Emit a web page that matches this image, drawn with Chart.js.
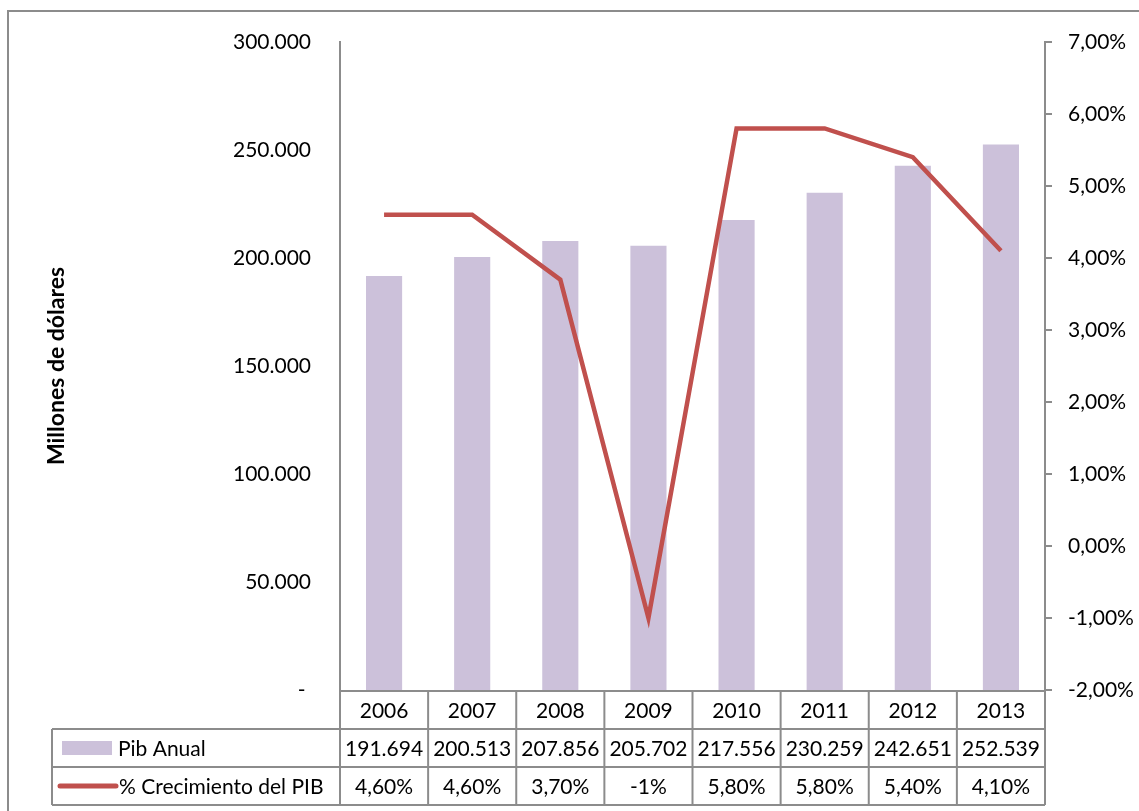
<!DOCTYPE html>
<html>
<head>
<meta charset="utf-8">
<script src="https://cdn.jsdelivr.net/npm/chart.js@4/dist/chart.umd.min.js"></script>
<style>
  html, body { margin: 0; padding: 0; background: #fff; }
  #wrap { width: 1139px; height: 811px; position: relative; }
</style>
</head>
<body>
<div id="wrap"><canvas id="pib"></canvas></div>
<script>
const years = ['2006', '2007', '2008', '2009', '2010', '2011', '2012', '2013'];
const pibAnual = [191694, 200513, 207856, 205702, 217556, 230259, 242651, 252539];
const crecimiento = [4.6, 4.6, 3.7, -1, 5.8, 5.8, 5.4, 4.1];

const BAR_COLOR = '#ccc1da';
const LINE_COLOR = '#c0504d';
const GRID = '#8c8c8c';
const FONT = { family: 'Lato, "Open Sans", sans-serif', size: 21 };

function miles(v) {
  return String(v).replace(/\B(?=(\d{3})+(?!\d))/g, '.');
}

function pct(v, decimals = 2) {
  return v.toFixed(decimals).replace('.', ',') + '%';
}

// table cell text: integers print without decimals ("-1%")
function pctCell(v) {
  return Number.isInteger(v) ? v + '%' : pct(v);
}

// outer frame + data table under the plot
const dataTable = {
  id: 'dataTable',
  beforeDraw(chart) {
    const { ctx } = chart;
    ctx.save();
    ctx.fillStyle = '#fff';
    ctx.fillRect(0, 0, chart.width, chart.height);
    ctx.strokeStyle = GRID;
    ctx.lineWidth = 2;
    ctx.strokeRect(8, 11, chart.width + 20, chart.height + 20);
    ctx.restore();
  },
  afterDraw(chart) {
    const { ctx, chartArea } = chart;
    const xs = chart.scales.x;
    const n = years.length;
    const colW = (chartArea.right - chartArea.left) / n;
    const rowH = 38;
    const top = chartArea.bottom + 1;
    const labelLeft = 52;
    const rows = [top, top + rowH, top + rowH * 2, top + rowH * 3];

    ctx.save();
    ctx.strokeStyle = GRID;
    ctx.lineWidth = 2;
    ctx.beginPath();
    // horizontal lines
    ctx.moveTo(chartArea.left, rows[0]);
    ctx.lineTo(chartArea.right, rows[0]);
    for (let r = 1; r < rows.length; r++) {
      ctx.moveTo(labelLeft, rows[r]);
      ctx.lineTo(chartArea.right, rows[r]);
    }
    // vertical lines
    for (let i = 0; i <= n; i++) {
      const x = chartArea.left + i * colW;
      ctx.moveTo(x, rows[0]);
      ctx.lineTo(x, rows[3]);
    }
    ctx.moveTo(labelLeft, rows[1]);
    ctx.lineTo(labelLeft, rows[3]);
    ctx.stroke();

    ctx.font = `${FONT.size}px ${FONT.family}`;
    ctx.fillStyle = '#000';
    ctx.textBaseline = 'middle';
    ctx.textAlign = 'center';
    years.forEach((y, i) => {
      const cx = xs.getPixelForValue(i);
      ctx.fillText(y, cx, (rows[0] + rows[1]) / 2 + 1);
      ctx.fillText(miles(pibAnual[i]), cx, (rows[1] + rows[2]) / 2 + 1);
      ctx.fillText(pctCell(crecimiento[i]), cx, (rows[2] + rows[3]) / 2 + 1);
    });

    // legend keys
    const m1 = (rows[1] + rows[2]) / 2;
    const m2 = (rows[2] + rows[3]) / 2;
    ctx.fillStyle = BAR_COLOR;
    ctx.fillRect(62, m1 - 7, 50, 14);
    ctx.strokeStyle = LINE_COLOR;
    ctx.lineWidth = 5;
    ctx.lineCap = 'round';
    ctx.beginPath();
    ctx.moveTo(60, m2);
    ctx.lineTo(116, m2);
    ctx.stroke();

    ctx.fillStyle = '#000';
    ctx.textAlign = 'left';
    ctx.fillText('Pib Anual', 118, m1 + 1);
    ctx.fillText('% Crecimiento del PIB', 119, m2 + 1);
    ctx.restore();
  },
};

new Chart(document.getElementById('pib'), {
  type: 'bar',
  data: {
    labels: years,
    datasets: [
      {
        type: 'line',
        label: '% Crecimiento del PIB',
        data: crecimiento,
        yAxisID: 'y1',
        borderColor: LINE_COLOR,
        backgroundColor: LINE_COLOR,
        borderWidth: 4.5,
        pointRadius: 0,
        tension: 0,
        order: 1,
      },
      {
        label: 'Pib Anual',
        data: pibAnual,
        yAxisID: 'y',
        backgroundColor: BAR_COLOR,
        barPercentage: 0.41,
        categoryPercentage: 1,
        order: 2,
      },
    ],
  },
  options: {
    responsive: true,
    maintainAspectRatio: false,
    animation: false,
    layout: { padding: { top: 42, bottom: 121, left: 40, right: 0 } },
    plugins: {
      legend: { display: false },
      tooltip: { enabled: false },
    },
    scales: {
      x: { display: false },
      y: {
        position: 'left',
        min: 0,
        max: 300000,
        afterFit: (scale) => { scale.width = 300; },
        grid: { display: false, drawTicks: false },
        border: { display: true, color: GRID, width: 2 },
        title: {
          display: true,
          text: 'Millones de dólares',
          color: '#000',
          font: { family: FONT.family, size: 23, weight: 'bold' },
          padding: { top: 3, bottom: 0 },
        },
        ticks: {
          stepSize: 50000,
          padding: 29,
          color: '#000',
          font: FONT,
          callback: (v) => (v === 0 ? '- ' : miles(v)),
        },
      },
      y1: {
        position: 'right',
        min: -2,
        max: 7,
        afterFit: (scale) => { scale.width = 94; },
        grid: { drawOnChartArea: false, drawTicks: true, tickLength: 7, color: GRID, lineWidth: 2 },
        border: { display: true, color: GRID, width: 2 },
        ticks: {
          stepSize: 1,
          padding: 16,
          color: '#000',
          font: FONT,
          callback: (v) => pct(v),
        },
      },
    },
  },
  plugins: [dataTable],
});
</script>
</body>
</html>
